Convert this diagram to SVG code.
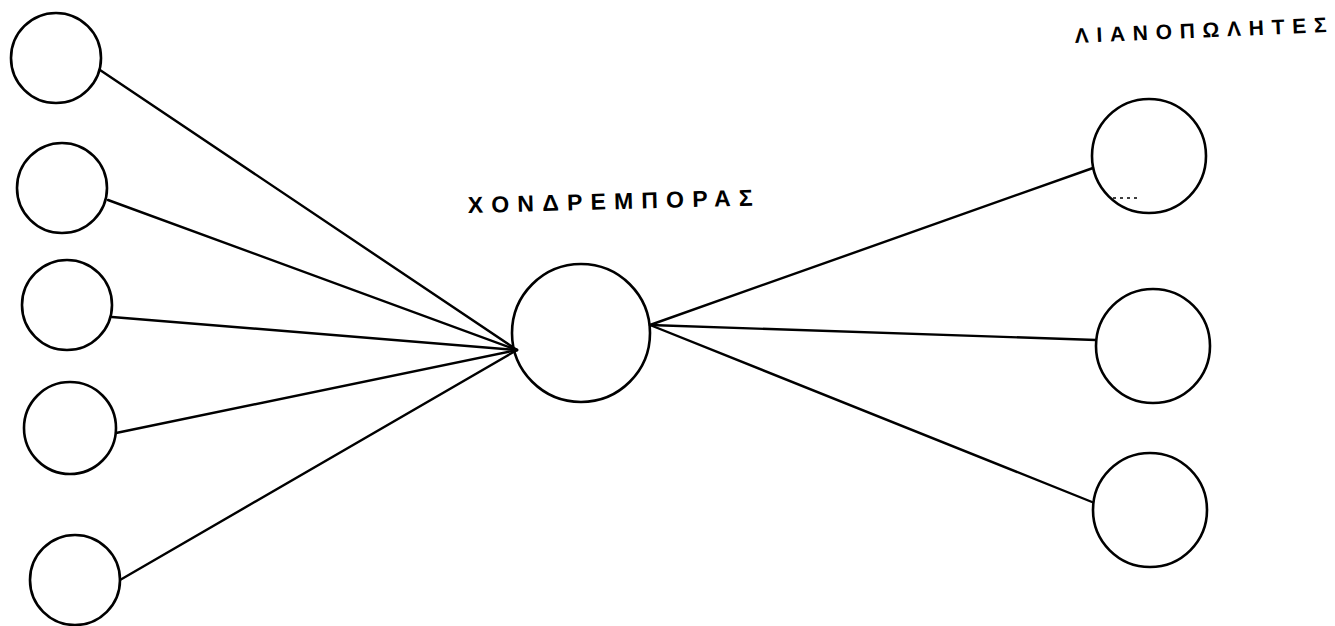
<svg xmlns="http://www.w3.org/2000/svg" width="1335" height="626" viewBox="0 0 1335 626">
<style>
.n{fill:none;stroke:#000;stroke-width:2.6}
.e{stroke:#000;stroke-width:2.4;fill:none;stroke-linecap:round}
.t{font-family:"Liberation Sans",Arial,sans-serif;fill:#000;font-weight:bold}
</style>
<rect width="1335" height="626" fill="#fff"/>
<g id="connectors">
<line class="e" x1="100" y1="70" x2="517" y2="350"/>
<line class="e" x1="108" y1="200" x2="517" y2="350"/>
<line class="e" x1="112" y1="317" x2="517" y2="350"/>
<line class="e" x1="116" y1="433" x2="517" y2="350"/>
<line class="e" x1="120" y1="580" x2="517" y2="350"/>
<line class="e" x1="650" y1="325" x2="1093" y2="168"/>
<line class="e" x1="650" y1="325" x2="1096" y2="340"/>
<line class="e" x1="650" y1="325" x2="1092" y2="502"/>
</g>
<g id="s1"><circle class="n" cx="56" cy="58" r="45"/></g>
<g id="s2"><circle class="n" cx="62" cy="188" r="45"/></g>
<g id="s3"><circle class="n" cx="67" cy="305" r="45"/></g>
<g id="s4"><circle class="n" cx="70" cy="428" r="46"/></g>
<g id="s5"><circle class="n" cx="75" cy="580" r="45"/></g>
<g id="wholesaler">
<circle class="n" cx="581" cy="333" r="69"/>
<text class="t" x="468" y="213" font-size="23" textLength="285" lengthAdjust="spacing" transform="rotate(-1.5 468 213)">ΧΟΝΔΡΕΜΠΟΡΑΣ</text>
</g>
<g id="r1">
<circle class="n" cx="1149" cy="156" r="57"/>
<line x1="1113" y1="198" x2="1137" y2="198" stroke="#000" stroke-width="1.5" stroke-dasharray="3 4"/>
</g>
<g id="r2"><circle class="n" cx="1153" cy="346" r="57"/></g>
<g id="r3"><circle class="n" cx="1150" cy="510" r="57"/></g>
<g id="retailers">
<text class="t" x="1075" y="43" font-size="21" textLength="252" lengthAdjust="spacing" transform="rotate(-2.5 1075 43)">ΛΙΑΝΟΠΩΛΗΤΕΣ</text>
</g>
</svg>
